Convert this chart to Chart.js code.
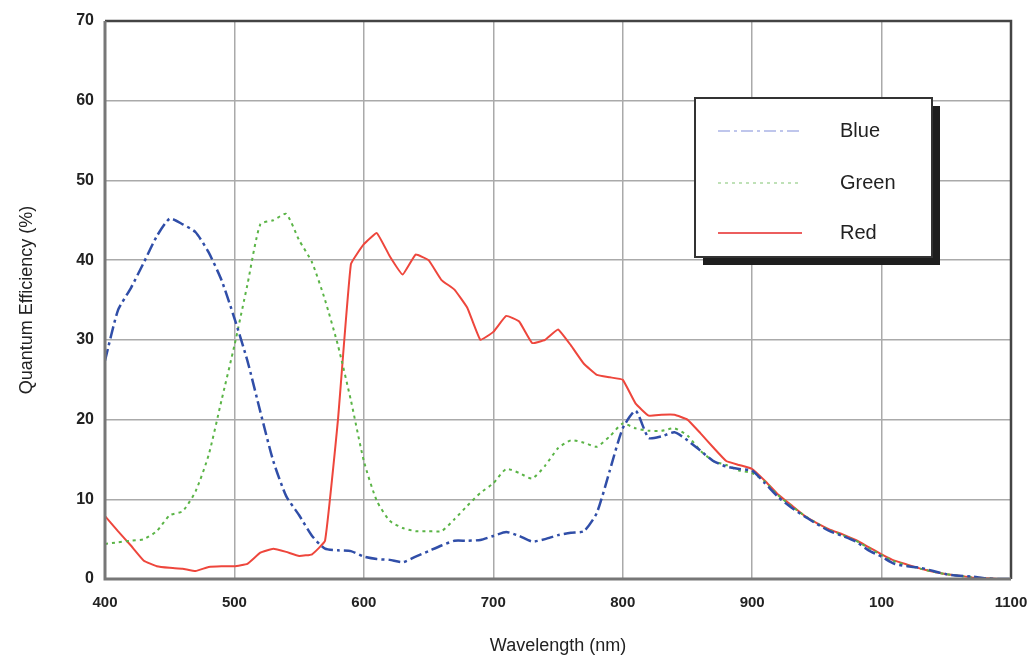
<!DOCTYPE html>
<html>
<head>
<meta charset="utf-8">
<script src="https://cdn.jsdelivr.net/npm/chart.js@4"></script>
<style>
  html, body { margin: 0; padding: 0; background: #fff; }
  #wrap { width: 1028px; height: 661px; }
</style>
</head>
<body>
<div id="wrap"><canvas id="qeChart" width="1028" height="661"></canvas></div>
<script>
// wavelength (nm), 10 nm steps
const wavelengths = [400, 410, 420, 430, 440, 450, 460, 470, 480, 490,
  500, 510, 520, 530, 540, 550, 560, 570, 580, 590,
  600, 610, 620, 630, 640, 650, 660, 670, 680, 690,
  700, 710, 720, 730, 740, 750, 760, 770, 780, 790,
  800, 810, 820, 830, 840, 850, 860, 870, 880, 890,
  900, 910, 920, 930, 940, 950, 960, 970, 980, 990,
  1000, 1010, 1020, 1030, 1040, 1050, 1060, 1070, 1080, 1090, 1100];

const blueQE = [27.4, 33.7, 36.5, 39.7, 43.0, 45.2, 44.5, 43.5, 41.0, 37.5,
  32.7, 27.4, 21.0, 14.8, 10.4, 8.0, 5.4, 3.8, 3.6, 3.5,
  2.8, 2.5, 2.4, 2.1, 2.8, 3.5, 4.2, 4.8, 4.8, 4.9,
  5.4, 5.9, 5.4, 4.7, 5.0, 5.5, 5.8, 6.0, 8.3, 13.6,
  18.9, 21.1, 17.7, 17.9, 18.4, 17.4, 16.1, 14.8, 14.1, 13.8,
  13.6, 12.0, 10.3, 9.0, 7.9, 6.9, 6.0, 5.4, 4.7, 3.6,
  2.8, 1.9, 1.6, 1.4, 1.0, 0.6, 0.4, 0.3, 0.1, 0.0, 0.0];

const greenQE = [4.4, 4.6, 4.8, 5.0, 6.0, 8.0, 8.5, 11.0, 15.5, 22.4,
  29.3, 36.9, 44.5, 45.0, 45.8, 42.5, 39.7, 35.0, 29.3, 22.4,
  14.8, 9.8, 7.3, 6.4, 6.0, 6.0, 6.0, 7.5, 9.2, 10.8,
  12.0, 13.8, 13.3, 12.6, 14.2, 16.4, 17.4, 17.1, 16.6, 17.9,
  19.5, 18.9, 18.6, 18.6, 18.9, 18.0, 16.1, 14.8, 14.3, 13.6,
  13.3, 12.2, 10.5, 9.2, 8.0, 7.0, 6.1, 5.5, 4.8, 3.9,
  3.0, 2.2, 1.7, 1.3, 0.9, 0.6, 0.4, 0.2, 0.1, 0.0, 0.0];

const redQE = [7.9, 6.0, 4.2, 2.3, 1.6, 1.4, 1.3, 1.0, 1.5, 1.6,
  1.6, 1.9, 3.3, 3.8, 3.4, 2.9, 3.1, 4.8, 20.0, 39.5,
  42.0, 43.4, 40.5, 38.2, 40.7, 40.0, 37.5, 36.3, 34.0, 30.0,
  31.0, 33.0, 32.3, 29.6, 30.0, 31.3, 29.3, 27.0, 25.6, 25.3,
  25.0, 22.0, 20.5, 20.6, 20.6, 20.0, 18.3, 16.5, 14.8, 14.3,
  13.8, 12.3, 10.6, 9.3, 8.0, 7.0, 6.2, 5.6, 4.9, 4.0,
  3.1, 2.3, 1.8, 1.3, 0.9, 0.6, 0.4, 0.2, 0.1, 0.0, 0.0];

const seriesNames = ['Blue', 'Green', 'Red'];
// the source labels 1000 as "100"
const xTickLabels = { 400: '400', 500: '500', 600: '600', 700: '700', 800: '800', 900: '900', 1000: '100', 1100: '1100' };

const toPoints = (vals) => vals.map((v, i) => ({ x: wavelengths[i], y: v }));

const frameAndLegend = {
  id: 'frameAndLegend',
  afterDraw(chart) {
    const { ctx, chartArea: a } = chart;
    ctx.save();
    // top and right border, dark
    ctx.strokeStyle = '#444';
    ctx.lineWidth = 2.5;
    ctx.beginPath();
    ctx.moveTo(a.left, a.top);
    ctx.lineTo(a.right, a.top);
    ctx.lineTo(a.right, a.bottom);
    ctx.stroke();
    // left and bottom axis, grey
    ctx.strokeStyle = '#777';
    ctx.lineWidth = 3;
    ctx.beginPath();
    ctx.moveTo(a.left, a.top);
    ctx.lineTo(a.left, a.bottom);
    ctx.lineTo(a.right, a.bottom);
    ctx.stroke();

    // legend box with drop shadow
    const bx = 695, by = 98, bw = 237, bh = 159;
    ctx.fillStyle = '#1e1e1e';
    ctx.fillRect(bx + 8, by + 8, bw, bh);
    ctx.fillStyle = '#fff';
    ctx.fillRect(bx, by, bw, bh);
    ctx.strokeStyle = '#333';
    ctx.lineWidth = 2;
    ctx.strokeRect(bx, by, bw, bh);

    ctx.font = '20px "Liberation Sans", Arial, sans-serif';
    ctx.textBaseline = 'middle';
    const rows = [131, 183, 233];
    chart.data.datasets.forEach((ds, i) => {
      const y = rows[i];
      ctx.strokeStyle = ds.legendColor;
      ctx.lineWidth = 1.5;
      ctx.setLineDash(ds.borderDash || []);
      ctx.beginPath();
      ctx.moveTo(718, y);
      ctx.lineTo(802, y);
      ctx.stroke();
      ctx.setLineDash([]);
      ctx.fillStyle = '#222';
      ctx.fillText(ds.label, 840, y);
    });
    ctx.restore();
  }
};

new Chart(document.getElementById('qeChart').getContext('2d'), {
  type: 'line',
  data: {
    datasets: [{
      label: seriesNames[0],
      data: toPoints(blueQE),
      borderColor: 'rgb(48, 78, 168)',
      legendColor: 'rgb(170, 180, 230)',
      borderWidth: 2.5,
      borderDash: [12, 4, 3, 4],
      pointRadius: 0,
      tension: 0.2
    }, {
      label: seriesNames[1],
      data: toPoints(greenQE),
      borderColor: 'rgb(90, 180, 70)',
      legendColor: 'rgb(170, 215, 160)',
      borderWidth: 2,
      borderDash: [3, 4],
      pointRadius: 0,
      tension: 0.2
    }, {
      label: seriesNames[2],
      data: toPoints(redQE),
      borderColor: 'rgb(238, 70, 60)',
      legendColor: 'rgb(230, 40, 40)',
      borderWidth: 2,
      pointRadius: 0,
      tension: 0.1
    }]
  },
  options: {
    responsive: false,
    animation: false,
    layout: { padding: { top: 21, right: 0, left: 12, bottom: 0 } },
    plugins: { legend: { display: false }, tooltip: { enabled: false } },
    scales: {
      x: {
        type: 'linear',
        min: 400,
        max: 1100,
        afterFit: (s) => { s.height = 82; s.paddingRight = 17; s.paddingLeft = 0; },
        border: { display: false },
        grid: { color: '#aaa', lineWidth: 1.5, drawTicks: false },
        ticks: {
          stepSize: 100,
          padding: 15,
          color: '#222',
          font: { family: '"Liberation Sans", Arial, sans-serif', size: 15, weight: 'bold' },
          callback: (v) => xTickLabels[v] || ''
        },
        title: {
          display: true,
          text: 'Wavelength (nm)',
          color: '#222',
          padding: { top: 18 },
          font: { family: '"Liberation Sans", Arial, sans-serif', size: 18 }
        }
      },
      y: {
        min: 0,
        max: 70,
        afterFit: (s) => { s.width = 93; },
        border: { display: false },
        grid: { color: '#aaa', lineWidth: 1.5, drawTicks: false },
        ticks: {
          stepSize: 10,
          padding: 11,
          color: '#222',
          font: { family: '"Liberation Sans", Arial, sans-serif', size: 16, weight: 'bold' }
        },
        title: {
          display: true,
          text: 'Quantum Efficiency (%)',
          color: '#222',
          padding: { bottom: 14 },
          font: { family: '"Liberation Sans", Arial, sans-serif', size: 18 }
        }
      }
    }
  },
  plugins: [frameAndLegend]
});
</script>
</body>
</html>
